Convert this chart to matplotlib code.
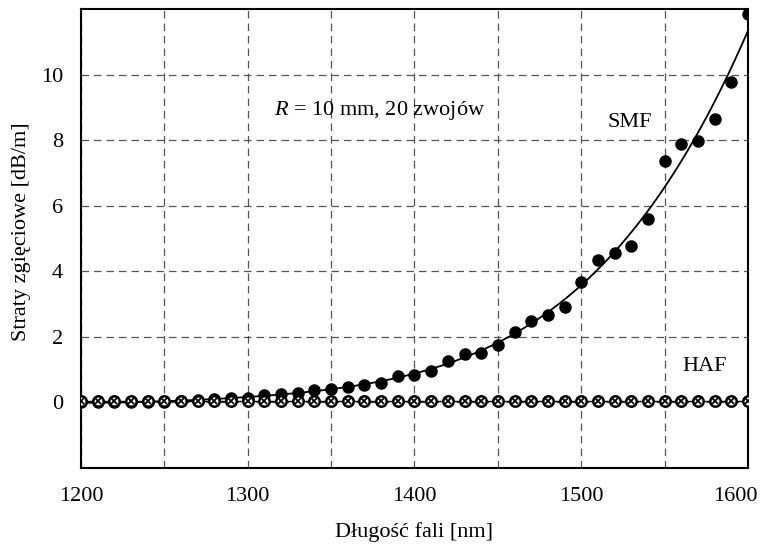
import numpy as np
import matplotlib.pyplot as plt
from matplotlib.transforms import ScaledTranslation

plt.rcParams['font.family'] = ['Liberation Serif', 'DejaVu Serif']
plt.rcParams['mathtext.fontset'] = 'custom'
plt.rcParams['mathtext.it'] = 'Liberation Serif:italic'
plt.rcParams['mathtext.rm'] = 'Liberation Serif'

# wavelengths [nm]
wavelength = np.arange(1200, 1601, 10)

# measured bending loss [dB/m]
smf_loss = [0.0, 0.0, 0.0, 0.0, 0.0, 0.02, 0.05, 0.08, 0.10, 0.15,
            0.15, 0.22, 0.27, 0.30, 0.38, 0.42, 0.47, 0.52, 0.60, 0.80,
            0.85, 0.95, 1.25, 1.48, 1.52, 1.75, 2.15, 2.48, 2.68, 2.90,
            3.67, 4.35, 4.56, 4.78, 5.59, 7.35, 7.87, 7.97, 8.63, 9.77,
            11.85]
haf_loss = [0.05] * len(wavelength)

# trend line through SMF data
coef = np.polyfit(wavelength, smf_loss, 4)
wl_fit = np.linspace(1200, 1600, 200)
fit = np.polyval(coef, wl_fit)

fs = 16

fig = plt.figure(figsize=(7.66, 5.49), dpi=100)
ax = fig.add_axes([0.1057, 0.1475, 0.8708, 0.8361])

ax.plot(wl_fit, fit, color='black', lw=1.3, zorder=3)
ax.plot(wavelength, haf_loss, color='black', lw=1.0, zorder=3)
ax.plot(wavelength, smf_loss, 'o', color='black', ms=8, zorder=4)
ax.plot(wavelength, haf_loss, 'o', mfc='white', mec='black', mew=1.8, ms=7.5, zorder=5)
ax.plot(wavelength, haf_loss, 'x', color='black', mew=1.3, ms=4, zorder=6)

ax.set_xlim(1200, 1600)
ax.set_ylim(-2, 12)
ax.set_xticks([1200, 1300, 1400, 1500, 1600])
ax.set_xticks(np.arange(1250, 1600, 100), minor=True)
ax.set_yticks([0, 2, 4, 6, 8, 10])
ax.grid(True, which='both', linestyle=(0, (6, 4)), color='#555555', lw=0.9)
ax.tick_params(which='both', length=0, labelsize=fs)
ax.tick_params(axis='x', pad=14)
ax.tick_params(axis='y', pad=13)
for s in ax.spines.values():
    s.set_linewidth(1.5)

# last x label sits a bit left so it stays inside the figure
last = ax.get_xticklabels()[-1]
last.set_transform(last.get_transform() + ScaledTranslation(-0.13, 0, fig.dpi_scale_trans))

ax.set_xlabel('Długość fali [nm]', fontsize=fs, labelpad=11)
ax.set_ylabel('Straty zgięciowe [dB/m]', fontsize=fs)
ax.yaxis.set_label_coords(-0.075, 0.515)

ax.text(1379, 8.9, r'$R$ = 10 mm, 20 zwojów', fontsize=fs, ha='center', va='center')
ax.text(1529, 8.55, 'SMF', fontsize=fs, ha='center', va='center')
ax.text(1574, 1.1, 'HAF', fontsize=fs, ha='center', va='center')

fig.savefig('out.png', dpi=100)
